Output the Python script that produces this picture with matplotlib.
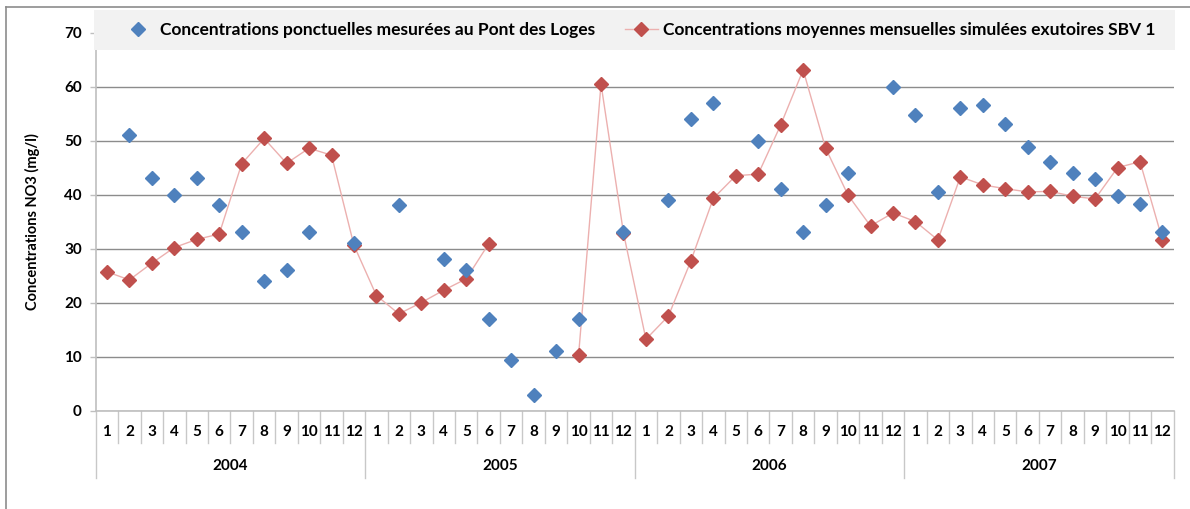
import matplotlib.pyplot as plt
import matplotlib.transforms as mtransforms
from matplotlib.lines import Line2D
from matplotlib.patches import Rectangle
import numpy as np

plt.rcParams['font.family'] = ['Lato', 'DejaVu Sans']
plt.rcParams['font.weight'] = 'bold'

years = ["2004", "2005", "2006", "2007"]
months = [str(m) for m in range(1, 13)]
nan = np.nan

# NO3 grab samples at Pont des Loges (mg/l), nan = no sample that month
mesurees = [nan, 51, 43, 40, 43, 38, 33, 24, 26, 33, nan, 31,
            nan, 38, nan, 28, 26, 17, 9.3, 2.8, 11, 17, nan, 33,
            nan, 39, 54, 57, nan, 50, 41, 33, 38, 44, nan, 60,
            54.8, 40.5, 56, 56.6, 53, 48.9, 46, 44, 42.9, 39.7, 38.3, 33]

# simulated monthly means at the SBV 1 outlet (mg/l)
simulees = [25.7, 24.2, 27.3, 30.2, 31.7, 32.7, 45.7, 50.4, 45.8, 48.6, 47.3, 30.6,
            21.3, 17.9, 20.0, 22.3, 24.4, 30.9, nan, nan, nan, 10.2, 60.5, 32.9,
            13.2, 17.5, 27.7, 39.3, 43.5, 43.8, 52.9, 63.1, 48.6, 39.9, 34.2, 36.6,
            35.0, 31.6, 43.3, 41.8, 41.1, 40.5, 40.6, 39.7, 39.2, 45.0, 46.1, 31.6]

label_mes = "Concentrations ponctuelles mesurées au Pont des Loges"
label_sim = "Concentrations moyennes mensuelles simulées exutoires SBV 1"

blue = "#4f81bd"
red = "#c0504d"
pink = "#ecb0af"

W, H = 1190, 509
fig = plt.figure(figsize=(W / 100, H / 100), dpi=100)
ax = fig.add_axes([95.7 / W, 1 - 410.5 / H, 1078 / W, 377.8 / H])

n = len(years) * len(months)
x = np.arange(n) + 0.5

ax.plot(x, simulees, color=pink, lw=1.0, zorder=3)
ax.plot(x, simulees, ls="none", marker="D", ms=7, color=red, mec=red, zorder=4)
ax.plot(x, mesurees, ls="none", marker="D", ms=7, color=blue, mec=blue, zorder=5)

ax.set_xlim(0, n)
ax.set_ylim(0, 70)
ax.set_yticks(range(0, 71, 10))
ax.yaxis.grid(True, color="#8c8c8c", lw=1.0)
ax.set_axisbelow(True)
ax.tick_params(axis="y", length=4, width=1, color="#bfbfbf", pad=6, labelsize=11)
ax.set_xticks([])
for s in ["top", "right"]:
    ax.spines[s].set_visible(False)
ax.spines["left"].set_color("#bfbfbf")
ax.spines["bottom"].set_color("#bfbfbf")
ax.spines["left"].set_linewidth(1.2)
ax.spines["bottom"].set_linewidth(1.2)
ax.set_ylabel("Concentrations NO3 (mg/l)", fontsize=10.5, fontweight="bold", labelpad=17)

# two-level category axis: months then years
trans = mtransforms.blended_transform_factory(ax.transData, ax.transAxes)
for i in range(n + 1):
    bottom = -0.179 if i % 12 == 0 else -0.086
    ax.add_line(Line2D([i, i], [0, bottom], transform=trans, color="#c8c8c8",
                       lw=1.0, clip_on=False))
for i in range(n):
    ax.text(i + 0.5, -0.058, months[i % 12], transform=trans, ha="center",
            va="center", fontsize=11, fontweight="bold")
for k, yr in enumerate(years):
    ax.text(k * 12 + 6, -0.148, yr, transform=trans, ha="center", va="center",
            fontsize=11, fontweight="bold")

# chart frame and legend band
fig.add_artist(Line2D([5.5 / W, 5.5 / W], [0, 1 - 6.5 / H], color="#8c8c8c", lw=1.2))
fig.add_artist(Line2D([5.5 / W, 1], [1 - 6.5 / H, 1 - 6.5 / H], color="#8c8c8c", lw=1.2))
fig.add_artist(Rectangle((94 / W, 1 - 50 / H), 1081 / W, 40 / H, facecolor="#f2f2f2",
                         edgecolor="none", zorder=2))

handles = [Line2D([], [], ls="none", marker="D", ms=7, color=blue),
           Line2D([], [], color=pink, lw=1.0, marker="D", ms=7, mfc=red, mec=red)]
fig.legend(handles, [label_mes, label_sim], loc="center",
           bbox_to_anchor=(638.5 / W, 1 - 30 / H), ncol=2, frameon=False,
           prop={"size": 12.5, "weight": "bold"}, handlelength=1.9,
           columnspacing=1.7, handletextpad=0.3, borderpad=0, borderaxespad=0)

fig.savefig("out.png", dpi=100)
